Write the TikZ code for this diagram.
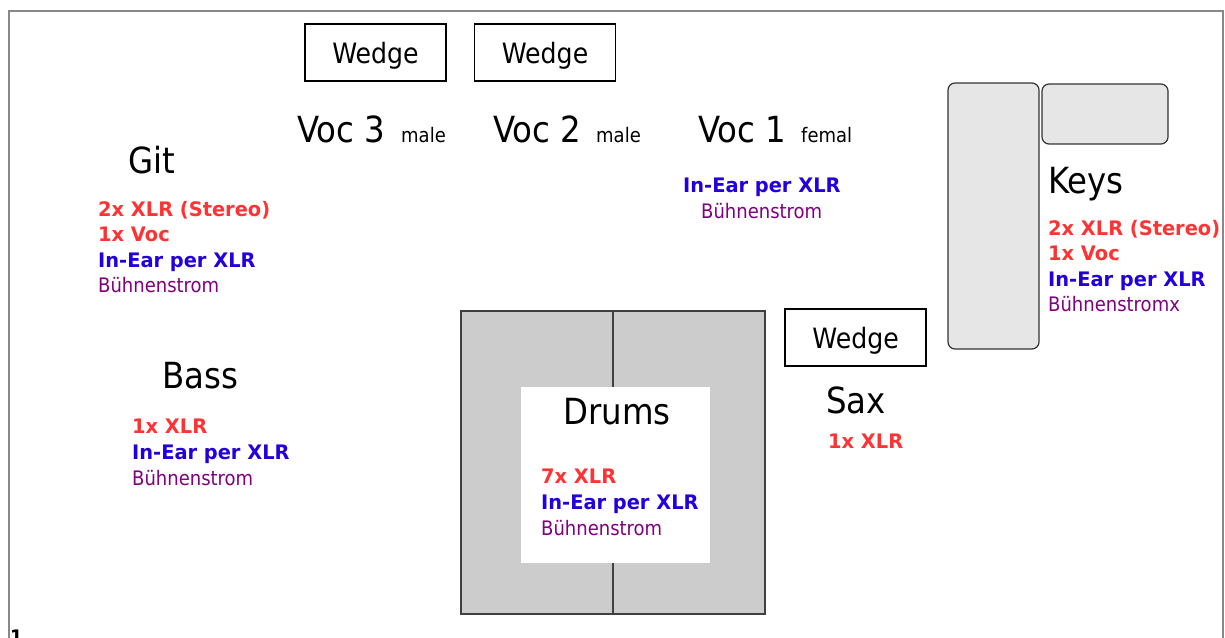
\documentclass[tikz,border=0pt]{standalone}
\usepackage{fontspec}
\setmainfont{DejaVu Sans}[FakeStretch=0.9]
\newfontfamily\boldfam{DejaVu Sans}[FakeStretch=0.97]
\definecolor{xred}{HTML}{FF3333}
\definecolor{xblue}{HTML}{2200DD}
\definecolor{xpurple}{HTML}{800080}
\definecolor{framegray}{HTML}{888888}
\definecolor{drumgray}{HTML}{CCCCCC}
\definecolor{keygray}{HTML}{E6E6E6}
\tikzset{
  frame/.style={draw=framegray, line width=2pt},
  wedgebox/.style={draw=black, line width=1.2pt, minimum width=141pt, minimum height=57pt, inner sep=0pt,
    text height=21pt, text depth=0pt, font=\fontsize{28}{28}\selectfont},
  big/.style={anchor=base west, inner sep=0pt, font=\fontsize{36}{36}\selectfont},
  tiny/.style={anchor=base west, inner sep=0pt, font=\fontsize{20}{20}\selectfont},
  redl/.style={anchor=base west, inner sep=0pt, text=xred, font=\boldfam\bfseries\fontsize{20}{20}\selectfont},
  bluel/.style={anchor=base west, inner sep=0pt, text=xblue, font=\boldfam\bfseries\fontsize{20}{20}\selectfont},
  purl/.style={anchor=base west, inner sep=0pt, text=xpurple, font=\fontsize{20}{20}\selectfont},
  keybox/.style={draw=black!80, fill=keygray, line width=1.2pt, rounded corners=7pt},
  drumbox/.style={draw=black!75, fill=drumgray, line width=1.5pt},
}
\begin{document}
\begin{tikzpicture}[x=1pt,y=-1pt]
\useasboundingbox (0,0) rectangle (1225,637);
\draw[frame] (9,11) rectangle (1223,680);

% Wedges
\node[wedgebox] (w1) at (375.5,52.5) {Wedge};
\node[wedgebox] (w2) at (545,52.5) {Wedge};
\node[wedgebox] (w3) at (855.5,337.5) {Wedge};

% Vocals
\node[big] (v3) at (297,142) {Voc 3};
\node[tiny] (v3m) at (401,142) {male};
\node[big] (v2) at (493,142) {Voc 2};
\node[tiny] (v2m) at (596,142) {male};
\node[big] (v1) at (698,142) {Voc 1};
\node[tiny] (v1f) at (801,142) {femal};
\node[bluel] (v1a) at (683,192) {In-Ear per XLR};
\node[purl] (v1b) at (701,218) {Bühnenstrom};

% Git
\node[big] (git) at (128,173) {Git};
\node[redl] (g1) at (98,216) {2x XLR (Stereo)};
\node[redl] (g2) at (98,241.5) {1x Voc};
\node[bluel] (g3) at (98,267) {In-Ear per XLR};
\node[purl] (g4) at (98,292.5) {Bühnenstrom};

% Bass
\node[big] (bass) at (162,388) {Bass};
\node[redl] (b1) at (132,433) {1x XLR};
\node[bluel] (b2) at (132,459) {In-Ear per XLR};
\node[purl] (b3) at (132,485) {Bühnenstrom};

% Drums
\node[drumbox, minimum width=304pt, minimum height=303pt, inner sep=0pt] (drumriser) at (613,462.5) {};
\draw[draw=black!75, line width=1.2pt] (drumriser.north) -- (drumriser.south);
\node[fill=white, minimum width=189pt, minimum height=176pt, inner sep=0pt] (drumarea) at (615.5,475) {};
\node[big] (drums) at (563,424) {Drums};
\node[redl] (d1) at (541,483) {7x XLR};
\node[bluel] (d2) at (541,509) {In-Ear per XLR};
\node[purl] (d3) at (541,535) {Bühnenstrom};

% Sax
\node[big] (sax) at (826,413) {Sax};
\node[redl] (s1) at (828,448) {1x XLR};

% Keys
\node[keybox, minimum width=91pt, minimum height=266pt, inner sep=0pt] (keyA) at (993.5,216) {};
\node[keybox, minimum width=126pt, minimum height=60pt, inner sep=0pt] (keyB) at (1105,114) {};
\node[big] (keys) at (1048,193) {Keys};
\node[redl] (k1) at (1048,235) {2x XLR (Stereo)};
\node[redl] (k2) at (1048,260) {1x Voc};
\node[bluel] (k3) at (1048,286) {In-Ear per XLR};
\node[purl] (k4) at (1048,311) {Bühnenstromx};

% page number
\node[anchor=north west, inner sep=0pt, font=\bfseries\fontsize{20}{20}\selectfont] (pnum) at (10,629.5) {1};
\end{tikzpicture}
\end{document}
